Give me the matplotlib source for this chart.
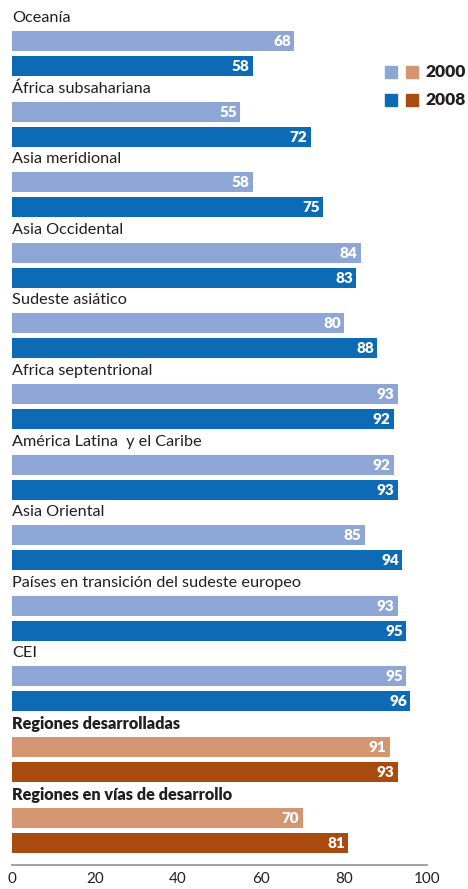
import matplotlib
matplotlib.use("Agg")
import matplotlib.pyplot as plt
from matplotlib.patches import Rectangle

# data
categories = [
    "Oceanía",
    "África subsahariana",
    "Asia meridional",
    "Asia Occidental",
    "Sudeste asiático",
    "Africa septentrional",
    "América Latina  y el Caribe",
    "Asia Oriental",
    "Países en transición del sudeste europeo",
    "CEI",
    "Regiones desarrolladas",
    "Regiones en vías de desarrollo",
]
values_2000 = [68, 55, 58, 84, 80, 93, 92, 85, 93, 95, 91, 70]
values_2008 = [58, 72, 75, 83, 88, 92, 93, 94, 95, 96, 93, 81]
bold_groups = ["Regiones desarrolladas", "Regiones en vías de desarrollo"]
years = ["2000", "2008"]
x_ticks = [0, 20, 40, 60, 80, 100]

blue_light, blue_dark = "#8EA6D6", "#0D6BB5"
orange_light, orange_dark = "#D39670", "#A94B0F"

plt.rcParams["font.family"] = ["Lato", "DejaVu Sans"]

W, H = 468, 889
fig = plt.figure(figsize=(W / 100, H / 100), dpi=100)
ax = fig.add_axes([12 / W, 1 - 865 / H, 415 / W, 865 / H])

step = 70.6
bar_h = 20
for i, cat in enumerate(categories):
    base = 41 + step * i
    special = cat in bold_groups
    c0, c1 = (orange_light, orange_dark) if special else (blue_light, blue_dark)
    ax.barh(base, values_2000[i], height=bar_h, color=c0, left=0)
    ax.barh(base + 25, values_2008[i], height=bar_h, color=c1, left=0)
    for y, v in ((base, values_2000[i]), (base + 25, values_2008[i])):
        ax.text(v - 0.8, y + 0.5, str(v), ha="right", va="center",
                color="white", fontsize=11, fontweight="heavy")
    ax.text(0, base - 23, cat, ha="left", va="center", fontsize=11.7,
            color="#231F20", fontweight="heavy" if special else "normal")

ax.set_xlim(0, 100)
ax.set_ylim(865, 0)
ax.set_yticks([])
ax.set_xticks(x_ticks)
ax.tick_params(axis="x", length=0, labelsize=11, pad=5, colors="#231F20")
for s in ("top", "right", "left"):
    ax.spines[s].set_visible(False)
ax.spines["bottom"].set_color("#9B9B9B")
ax.spines["bottom"].set_linewidth(1.3)

# legend
for row, (yr, cb, co) in enumerate(zip(years, (blue_light, blue_dark), (orange_light, orange_dark))):
    yc = 72 + 28 * row
    fig.patches.append(Rectangle((385 / W, 1 - (yc + 6) / H), 12 / W, 12 / H,
                                 transform=fig.transFigure, color=cb))
    fig.patches.append(Rectangle((406 / W, 1 - (yc + 6) / H), 12 / W, 12 / H,
                                 transform=fig.transFigure, color=co))
    fig.text(425 / W, 1 - yc / H, yr, ha="left", va="center", fontsize=12.5,
             fontweight="heavy", color="#231F20")

fig.savefig("out.png", dpi=100)
